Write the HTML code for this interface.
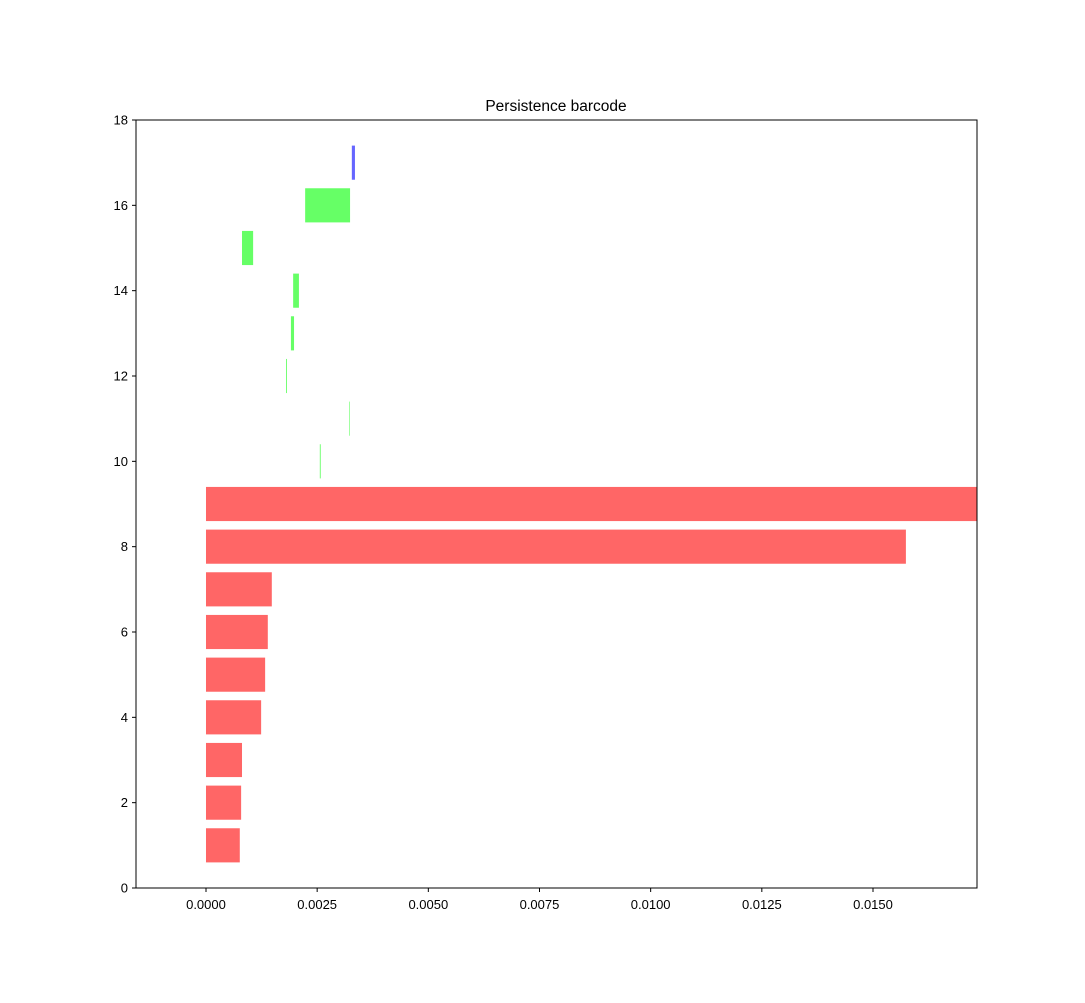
<!DOCTYPE html>
<html><head><meta charset="utf-8"><style>
html,body{margin:0;padding:0;background:#fff;}
svg text{font-family:"Liberation Sans","DejaVu Sans",sans-serif;}
</style></head><body>
<svg id="chart" width="1085" height="998" xmlns="http://www.w3.org/2000/svg">
<rect x="0" y="0" width="1085" height="998" fill="#fff"/>
<text x="556" y="111" text-anchor="middle" font-size="15.5">Persistence barcode</text>
<g id="bars"></g>
<g id="axes"></g>
<rect x="136" y="120" width="841" height="768" fill="none" stroke="#000" stroke-width="1"/>
</svg>
<script>
const births = [0,0,0,0,0,0,0,0,0,0.00256,0.00322,0.00180,0.00191,0.00196,0.00081,0.00223,0.00328];
const deaths = [0.00076,0.00079,0.00081,0.00124,0.00133,0.00139,0.00148,0.01574,0.01734,0.00258,0.00323,0.00182,0.00198,0.00209,0.00106,0.00324,0.00335];
const dims = [0,0,0,0,0,0,0,0,0,1,1,1,1,1,1,1,2];
const xTicks = [0,0.0025,0.005,0.0075,0.01,0.0125,0.015];
const xTickLabels = ["0.0000","0.0025","0.0050","0.0075","0.0100","0.0125","0.0150"];
const yTicks = [0,2,4,6,8,10,12,14,16,18];
const colors = ["#ff6666","#66ff66","#6666ff"];
const L=136,R=977,T=120,B=888, xmin=-0.001574, xmax=0.017339, ymin=0, ymax=18;
const sx=v=>L+(v-xmin)/(xmax-xmin)*(R-L);
const sy=v=>B-(v-ymin)/(ymax-ymin)*(B-T);
const NS="http://www.w3.org/2000/svg";
const bars=document.getElementById('bars'), axes=document.getElementById('axes');
births.forEach((b,i)=>{
  const r=document.createElementNS(NS,'rect');
  const y=i+1;
  r.setAttribute('x',sx(b));
  r.setAttribute('width',Math.max(0.6,sx(deaths[i])-sx(b)));
  r.setAttribute('y',sy(y+0.4));
  r.setAttribute('height',sy(y-0.4)-sy(y+0.4));
  r.setAttribute('fill',colors[dims[i]]);
  
  
  bars.appendChild(r);
});
xTicks.forEach((v,i)=>{
  const x=sx(v);
  const l=document.createElementNS(NS,'line');
  l.setAttribute('x1',x);l.setAttribute('x2',x);l.setAttribute('y1',B);l.setAttribute('y2',B+4);
  l.setAttribute('stroke','#000');
  
  
  axes.appendChild(l);
  const t=document.createElementNS(NS,'text');
  t.setAttribute('x',x);t.setAttribute('y',B+21);t.setAttribute('text-anchor','middle');t.setAttribute('font-size','13');
  t.textContent=xTickLabels[i];
  
  
  axes.appendChild(t);
});
yTicks.forEach(v=>{
  const y=sy(v);
  const l=document.createElementNS(NS,'line');
  l.setAttribute('x1',L-4);l.setAttribute('x2',L);l.setAttribute('y1',y);l.setAttribute('y2',y);
  l.setAttribute('stroke','#000');
  
  
  axes.appendChild(l);
  const t=document.createElementNS(NS,'text');
  t.setAttribute('x',L-8);t.setAttribute('y',y+4.5);t.setAttribute('text-anchor','end');t.setAttribute('font-size','13');
  t.textContent=String(v);
  
  
  axes.appendChild(t);
});
</script>
</body></html>
